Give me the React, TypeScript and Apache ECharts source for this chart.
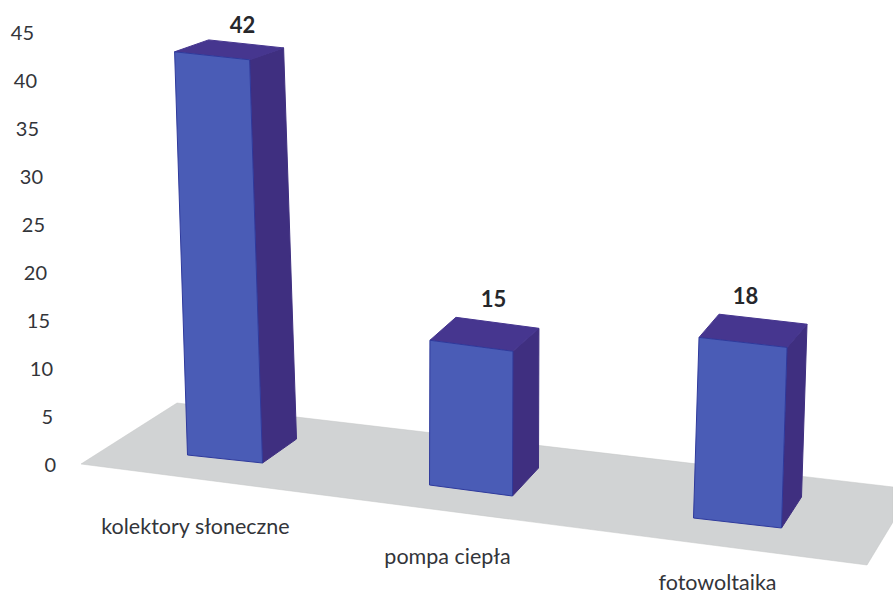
import React, { useEffect, useRef } from "react";
import * as echarts from "echarts";

// ---- data ----
const categories = ["kolektory słoneczne", "pompa ciepła", "fotowoltaika"];
const values = [42, 15, 18];
const yTicks = [0, 5, 10, 15, 20, 25, 30, 35, 40, 45];

// ---- perspective look of the scene (offsets from the axis position of each category) ----
const FONT = "Lato, 'Open Sans', sans-serif";
const TEXT = "#33353a";
const FRONT = "#4a5cb6";
const SIDE = "#3f2f80";
const TOP = "#46368f";
const EDGE = "#2f3a9c";
const FLOOR = "#d1d3d4";

const footFL = [[-8, -9], [-27, 21], [-24, 54]];
const footFR = [[67, -1], [56, 32], [64, 64]];
const footSR = [[101, -25], [82, 4], [84, 33]];
const leans = [-0.032, 0.003, 0.032];
const riseFront = [1.0, 1.005, 1.045];
const riseBack = [0.97, 0.97, 1.0];
const valueLabelOffset = [[47, -36], [37, -22], [28, 4]];

const tickInset: Record<number, number> = { 45: 22, 40: 19, 35: 17, 30: 13, 25: 11, 20: 9, 15: 6, 10: 3, 5: 3, 0: 0 };
const catLabelPadTop = [103, 163, 215];
const catLabelShift = [0, -9, 0];

export default function App() {
  const ref = useRef<HTMLDivElement>(null);
  useEffect(() => {
    document.body.style.margin = "0";
    const chart = echarts.init(ref.current!, undefined, { renderer: "svg" });

    const yRich: any = {};
    yTicks.forEach((t) => {
      yRich["t" + t] = { fontFamily: FONT, fontSize: 20, color: TEXT, padding: [0, tickInset[t], 0, 0] };
    });
    const xRich: any = {};
    categories.forEach((_, i) => {
      const s = catLabelShift[i];
      xRich["c" + i] = {
        fontFamily: FONT,
        fontSize: 21.5,
        color: TEXT,
        lineHeight: 20,
        padding: [catLabelPadTop[i], s < 0 ? -2 * s : 0, 0, s > 0 ? 2 * s : 0],
      };
    });

    chart.setOption({
      animation: false,
      backgroundColor: "#ffffff",
      grid: { left: 65, right: 45, top: 32, bottom: 130, containLabel: false },
      graphic: [
        {
          type: "polygon",
          z: 0,
          silent: true,
          shape: { points: [[81, 464], [177, 403], [893, 487], [893, 522], [867, 565]] },
          style: { fill: FLOOR, stroke: "#c4c6c7", lineWidth: 0.5 },
        },
      ],
      xAxis: {
        type: "category",
        data: categories,
        axisLine: { show: false },
        axisTick: { show: false },
        axisLabel: {
          interval: 0,
          margin: 0,
          hideOverlap: false,
          formatter: (v: string) => `{c${categories.indexOf(v)}|${v}}`,
          rich: xRich,
        },
      },
      yAxis: {
        type: "value",
        min: 0,
        max: 45,
        interval: 5,
        splitLine: { show: false },
        axisLine: { show: false },
        axisTick: { show: false },
        axisLabel: {
          margin: 9,
          formatter: (v: number) => `{t${v}|${v}}`,
          rich: yRich,
        },
      },
      series: [
        {
          type: "custom",
          clip: false,
          encode: { x: 0, y: 1 },
          data: values.map((v, i) => [i, v]),
          renderItem: (_params: any, api: any) => {
            const i = api.value(0);
            const v = api.value(1);
            const base = api.coord([i, 0]);
            const topPt = api.coord([i, v]);
            const h = base[1] - topPt[1];
            const at = (o: number[]) => [base[0] + o[0], base[1] + o[1]];
            const FL = at(footFL[i]);
            const FR = at(footFR[i]);
            const SR = at(footSR[i]);
            const BK = [FL[0] + SR[0] - FR[0], FL[1] + SR[1] - FR[1]];
            const lift = (p: number[], r: number) => [p[0] + leans[i] * h, p[1] - r * h];
            const tFL = lift(FL, riseFront[i]);
            const tFR = lift(FR, riseFront[i]);
            const tSR = lift(SR, riseBack[i]);
            const tBK = lift(BK, riseBack[i]);
            const off = valueLabelOffset[i];
            return {
              type: "group",
              children: [
                {
                  type: "polygon",
                  shape: { points: [FR, SR, tSR, tFR] },
                  style: { fill: SIDE, stroke: SIDE, lineWidth: 1 },
                },
                {
                  type: "polygon",
                  shape: { points: [tFL, tFR, tSR, tBK] },
                  style: { fill: TOP, stroke: TOP, lineWidth: 1 },
                },
                {
                  type: "polygon",
                  shape: { points: [FL, FR, tFR, tFL] },
                  style: { fill: FRONT, stroke: EDGE, lineWidth: 1 },
                },
                {
                  type: "text",
                  style: {
                    text: String(v),
                    x: topPt[0] + off[0],
                    y: topPt[1] + off[1],
                    align: "center",
                    verticalAlign: "middle",
                    fontFamily: FONT,
                    fontWeight: "bold",
                    fontSize: 22,
                    fill: "#26272b",
                  },
                },
              ],
            };
          },
        },
      ],
    });
    return () => chart.dispose();
  }, []);
  return <div ref={ref} style={{ width: 893, height: 594 }} />;
}
